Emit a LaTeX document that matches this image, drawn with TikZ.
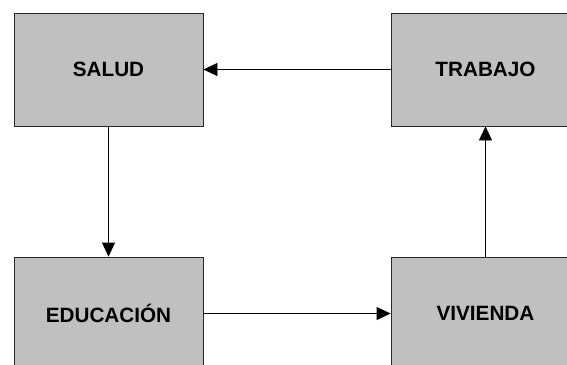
\documentclass[tikz,border=0pt]{standalone}
\usepackage{fontspec}
\setmainfont{Liberation Sans}
\usetikzlibrary{arrows.meta}
\begin{document}
\begin{tikzpicture}[x=1pt,y=1pt,
  box/.style={draw=black!85, line width=0.8pt, fill={rgb,255:red,192;green,192;blue,192},
    minimum width=189pt, minimum height=113pt, inner sep=0pt,
    font=\fontsize{20.7}{24}\selectfont\bfseries, text=black},
  conn/.style={draw=black, line width=0.8pt, -{Triangle[length=14pt,width=13pt]}}]
\clip (0,0) rectangle (567,-364);
\fill[white] (0,0) rectangle (567,-364);
\node[box] (salud) at (108.5,-69.5) {SALUD};
\node[box] (trabajo) at (485.5,-69.5) {TRABAJO};
\node[box] (educ) at (108.5,-313.5) {EDUCACIÓN};
\node[box] (viv) at (485.5,-313.5) {VIVIENDA};
\draw[conn] (salud.south) -- (educ.north);
\draw[conn] (educ.east) -- (viv.west);
\draw[conn] (viv.north) -- (trabajo.south);
\draw[conn] (trabajo.west) -- (salud.east);
\end{tikzpicture}
\end{document}
